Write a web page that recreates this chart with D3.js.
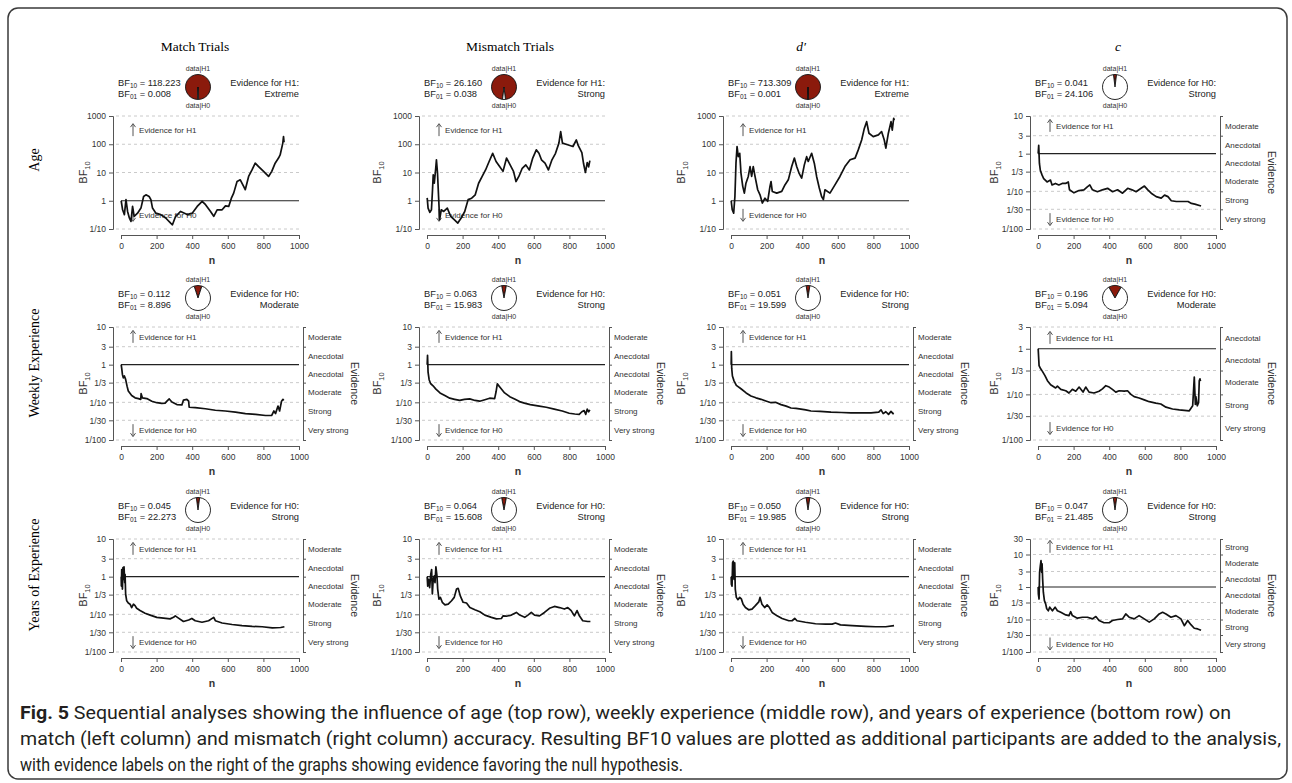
<!DOCTYPE html>
<html>
<head>
<meta charset="utf-8">
<script src="https://cdn.jsdelivr.net/npm/d3@7"></script>
<style>
  body { margin: 0; background: #fff; }
  svg { display: block; }
</style>
</head>
<body>
<svg id="chart" width="1292" height="783"></svg>
<script>
// ---- data ----
const columns = ["Match Trials", "Mismatch Trials", "d\u2032", "c"];
const rows = ["Age", "Weekly Experience", "Years of Experience"];

const bf10 = [
  [118.223, 26.160, 713.309, 0.041],
  [0.112, 0.063, 0.051, 0.196],
  [0.045, 0.064, 0.050, 0.047]
];
const bf01 = [
  [0.008, 0.038, 0.001, 24.106],
  [8.896, 15.983, 19.599, 5.094],
  [22.273, 15.608, 19.985, 21.485]
];
const evidenceFor = [
  ["H1", "H1", "H1", "H0"],
  ["H0", "H0", "H0", "H0"],
  ["H0", "H0", "H0", "H0"]
];
const evidenceLevel = [
  ["Extreme", "Strong", "Extreme", "Strong"],
  ["Moderate", "Strong", "Strong", "Moderate"],
  ["Strong", "Strong", "Strong", "Strong"]
];

// y tick sets (BF10 values) and their labels
const ticksWide = [1000, 100, 10, 1, 0.1];
const ticksWideLabels = ["1000", "100", "10", "1", "1/10"];
const ticksStd = [10, 3, 1, 1/3, 1/10, 1/30, 1/100];
const ticksStdLabels = ["10", "3", "1", "1/3", "1/10", "1/30", "1/100"];
const ticksLow = [3, 1, 1/3, 1/10, 1/30, 1/100];
const ticksLowLabels = ["3", "1", "1/3", "1/10", "1/30", "1/100"];
const ticksHigh = [30, 10, 3, 1, 1/3, 1/10, 1/30, 1/100];
const ticksHighLabels = ["30", "10", "3", "1", "1/3", "1/10", "1/30", "1/100"];
const xTicks = [0, 200, 400, 600, 800, 1000];

const evidenceCuts = [1, 3, 10, 30, 100];
const evidenceNames = ["Anecdotal", "Moderate", "Strong", "Very strong", "Extreme"];

// sequential BF10 paths: [n, log10(BF10)]
const ageMatch = [[1,0],[9,-0.32],[19,-0.49],[28,0.04],[37,-0.38],[47,-0.61],[56,-0.73],[65,-0.2],[74,-0.55],[93,-0.44],[112,-0.26],[127,0.15],[140,0.21],[158,0.15],[168,0.04],[177,-0.26],[196,-0.44],[223,-0.49],[251,-0.61],[279,-0.79],[289,-0.85],[307,-0.55],[335,-0.38],[372,-0.49],[400,-0.44],[428,-0.2],[456,-0.02],[475,-0.14],[503,-0.38],[521,-0.55],[540,-0.32],[568,-0.32],[587,-0.18],[605,-0.2],[620,0.09],[633,0.27],[652,0.68],[670,0.74],[689,0.51],[698,0.39],[717,0.86],[736,1.09],[754,1.33],[773,1.21],[801,1.04],[829,0.86],[847,1.04],[866,1.33],[885,1.51],[894,1.62],[909,2.04],[913,2.27],[916,2.07]];
const ageMismatch = [[1,0.1],[6,-0.26],[16,-0.41],[25,-0.32],[31,0.39],[35,0.92],[41,0.62],[49,1.15],[53,1.45],[59,0.98],[65,0.15],[71,-0.67],[80,-0.32],[94,-0.38],[114,-0.26],[133,-0.55],[153,-0.67],[173,-0.79],[192,-0.61],[212,-0.38],[231,0.04],[251,0.09],[271,0.21],[290,0.62],[310,0.86],[329,1.09],[349,1.39],[369,1.68],[388,1.39],[408,1.21],[427,1.04],[447,1.51],[467,1.27],[486,1.04],[500,0.68],[516,0.86],[535,1.15],[555,1.27],[575,1.09],[594,1.51],[614,1.8],[629,1.68],[643,1.45],[663,1.33],[682,1.09],[702,1.45],[722,1.68],[741,2.04],[751,2.45],[761,2.04],[790,1.98],[820,1.92],[839,2.15],[850,1.95],[870,1.7],[880,1.3],[890,1.0],[900,1.35],[908,1.2],[915,1.42]];
const ageDprime = [[1,0],[7,-0.32],[15,-0.44],[22,0.15],[28,1.33],[34,1.92],[41,1.56],[49,1.68],[56,0.98],[66,0.51],[75,0.27],[84,0.62],[97,0.86],[107,1.21],[116,0.86],[125,1.21],[135,0.86],[150,0.39],[163,0.21],[176,-0.08],[191,0.09],[206,-0.02],[219,0.51],[225,0.68],[232,0.33],[257,0.27],[285,0.33],[303,0.56],[322,0.74],[341,1.21],[356,1.51],[369,1.21],[382,0.98],[397,0.8],[412,1.27],[425,1.56],[434,1.39],[453,1.68],[468,1.33],[481,0.86],[496,0.45],[509,0.15],[519,0.04],[528,0.39],[556,0.27],[584,0.56],[612,0.86],[640,1.21],[669,1.45],[697,1.51],[715,1.8],[734,2.15],[749,2.56],[762,2.8],[775,2.39],[799,2.27],[828,2.33],[846,2.45],[861,2.15],[870,1.86],[884,2.39],[899,2.8],[906,2.5],[914,2.92],[917,2.85]];
const ageC = [[1,0],[4,0.22],[8,-0.26],[13,-0.44],[23,-0.57],[32,-0.66],[51,-0.75],[70,-0.7],[79,-0.83],[98,-0.79],[117,-0.83],[136,-0.79],[155,-0.79],[170,-0.75],[177,-0.96],[202,-1.04],[230,-0.98],[258,-0.96],[277,-0.88],[291,-0.83],[306,-0.96],[334,-1.01],[362,-0.96],[391,-0.92],[419,-1.01],[447,-0.96],[475,-1.05],[504,-0.92],[528,-0.96],[551,-1.01],[579,-0.92],[598,-0.86],[617,-0.96],[636,-1.05],[664,-1.14],[692,-1.18],[711,-1.1],[730,-1.14],[749,-1.25],[777,-1.27],[815,-1.27],[843,-1.27],[862,-1.32],[881,-1.34],[916,-1.39]];

const weeklyMatch = [[1,0],[4,-0.1],[8,-0.26],[13,-0.35],[19,-0.3],[26,-0.39],[34,-0.57],[41,-0.7],[60,-0.82],[79,-0.88],[98,-0.9],[111,-0.92],[113,-0.77],[120,-0.88],[145,-0.9],[173,-0.97],[201,-1.01],[229,-1.03],[248,-1.02],[258,-0.97],[271,-0.91],[286,-0.99],[314,-1.06],[342,-1.07],[351,-0.94],[370,-0.92],[380,-0.97],[383,-1.13],[417,-1.14],[474,-1.17],[530,-1.21],[586,-1.23],[643,-1.26],[699,-1.3],[756,-1.32],[812,-1.35],[846,-1.35],[859,-1.23],[868,-1.3],[882,-1.1],[891,-1.23],[902,-0.97],[910,-0.92],[914,-0.95]];
const weeklyMismatch = [[1,0],[3,0.25],[6,-0.2],[12,-0.4],[20,-0.5],[34,-0.56],[50,-0.65],[73,-0.75],[100,-0.82],[128,-0.89],[155,-0.92],[184,-0.95],[210,-0.92],[240,-0.91],[270,-0.95],[296,-0.97],[325,-0.93],[352,-0.89],[380,-0.9],[388,-0.72],[395,-0.51],[410,-0.6],[436,-0.75],[465,-0.85],[492,-0.91],[520,-0.98],[547,-1.02],[580,-1.06],[631,-1.1],[670,-1.13],[715,-1.18],[760,-1.23],[799,-1.29],[830,-1.31],[855,-1.32],[870,-1.25],[883,-1.22],[892,-1.32],[900,-1.18],[908,-1.25],[915,-1.2]];
const weeklyDprime = [[1,0],[2,0.35],[4,-0.1],[8,-0.3],[17,-0.43],[30,-0.55],[56,-0.64],[85,-0.75],[112,-0.83],[140,-0.88],[169,-0.92],[200,-0.97],[225,-1.01],[250,-1.0],[281,-1.06],[310,-1.1],[337,-1.15],[365,-1.16],[393,-1.18],[420,-1.2],[449,-1.23],[500,-1.24],[562,-1.26],[620,-1.27],[674,-1.28],[730,-1.28],[787,-1.28],[830,-1.26],[843,-1.2],[855,-1.3],[870,-1.25],[885,-1.32],[899,-1.24],[910,-1.3],[915,-1.29]];
const weeklyC = [[1,0],[6,-0.37],[15,-0.44],[24,-0.49],[39,-0.59],[53,-0.7],[71,-0.79],[99,-0.86],[109,-0.82],[128,-0.89],[156,-0.92],[174,-0.97],[193,-0.89],[212,-0.93],[231,-0.84],[253,-0.95],[268,-0.84],[287,-0.95],[315,-0.97],[343,-0.93],[362,-0.88],[381,-0.81],[400,-0.84],[418,-0.89],[437,-0.95],[456,-0.92],[484,-0.93],[503,-0.92],[522,-1.0],[540,-1.05],[568,-1.08],[597,-1.12],[625,-1.16],[662,-1.19],[690,-1.21],[719,-1.28],[756,-1.32],[794,-1.34],[850,-1.36],[869,-1.25],[878,-0.62],[884,-1.22],[887,-1.05],[895,-1.25],[902,-1.18],[906,-0.7],[910,-0.66],[913,-0.71]];

const yearsMatch = [[1,0],[2,-0.25],[4,0.19],[8,-0.33],[11,0.24],[15,-0.07],[17,0.26],[21,-0.16],[23,0.06],[26,-0.46],[32,-0.64],[41,-0.7],[51,-0.73],[60,-0.82],[70,-0.73],[79,-0.77],[88,-0.84],[107,-0.9],[135,-0.97],[164,-1.02],[201,-1.08],[239,-1.1],[276,-1.12],[295,-1.08],[305,-1.04],[323,-1.1],[351,-1.19],[380,-1.15],[398,-1.11],[417,-1.17],[455,-1.21],[492,-1.17],[521,-1.08],[530,-1.17],[568,-1.23],[624,-1.27],[680,-1.3],[737,-1.32],[793,-1.33],[850,-1.36],[897,-1.35],[918,-1.33]];
const yearsMismatch = [[1,0],[4,-0.25],[9,-0.07],[15,-0.29],[21,0.06],[26,0.19],[30,-0.46],[35,-0.07],[41,0.02],[45,-0.16],[50,0.26],[56,0.02],[60,-0.33],[67,-0.6],[75,-0.55],[86,-0.68],[101,-0.75],[119,-0.73],[138,-0.64],[153,-0.55],[166,-0.33],[175,-0.31],[187,-0.51],[203,-0.68],[222,-0.7],[241,-0.82],[269,-0.88],[297,-0.93],[325,-1.02],[362,-1.08],[390,-1.12],[418,-1.11],[427,-1.04],[446,-1.05],[474,-1.02],[502,-0.95],[521,-1.02],[549,-1.08],[567,-1.02],[586,-0.95],[604,-1.02],[632,-1.04],[660,-0.95],[688,-0.84],[716,-0.79],[744,-0.82],[772,-0.86],[791,-0.82],[810,-0.9],[828,-1.04],[843,-0.9],[856,-1.04],[875,-1.17],[903,-1.19],[918,-1.19]];
const yearsDprime = [[1,0],[2,-0.2],[6,-0.25],[9,0.37],[13,0.41],[17,-0.07],[21,0.37],[24,-0.33],[30,-0.55],[39,-0.61],[49,-0.55],[58,-0.59],[68,-0.73],[81,-0.82],[99,-0.88],[118,-0.86],[137,-0.77],[156,-0.67],[163,-0.55],[174,-0.73],[189,-0.82],[203,-0.75],[216,-0.82],[231,-0.95],[259,-1.04],[287,-1.11],[325,-1.17],[343,-1.17],[358,-1.11],[371,-1.17],[418,-1.21],[475,-1.25],[531,-1.26],[568,-1.26],[587,-1.23],[615,-1.28],[681,-1.3],[756,-1.32],[812,-1.33],[869,-1.33],[916,-1.3]];
const yearsC = [[1,0],[2,-0.21],[6,-0.37],[9,0.45],[13,0.65],[17,0.81],[21,0.45],[23,0.71],[26,0.25],[30,-0.16],[36,-0.42],[43,-0.52],[49,-0.67],[58,-0.73],[66,-0.62],[81,-0.73],[96,-0.62],[109,-0.73],[128,-0.78],[156,-0.86],[174,-0.88],[184,-0.76],[193,-0.88],[221,-0.96],[250,-0.93],[278,-0.93],[306,-0.98],[325,-0.91],[343,-1.03],[371,-1.1],[400,-1.1],[418,-1.03],[447,-1.0],[475,-0.98],[493,-0.83],[512,-0.93],[540,-0.98],[568,-0.88],[597,-0.98],[625,-1.08],[653,-0.98],[681,-0.83],[700,-0.78],[719,-0.83],[747,-0.93],[775,-0.88],[803,-0.98],[822,-1.19],[841,-1.03],[859,-1.16],[878,-1.27],[897,-1.29],[916,-1.33]];

const series = [
  [ageMatch, ageMismatch, ageDprime, ageC],
  [weeklyMatch, weeklyMismatch, weeklyDprime, weeklyC],
  [yearsMatch, yearsMismatch, yearsDprime, yearsC]
];
const panelTicks = [
  [[ticksWide, ticksWideLabels], [ticksWide, ticksWideLabels], [ticksWide, ticksWideLabels], [ticksStd, ticksStdLabels]],
  [[ticksStd, ticksStdLabels], [ticksStd, ticksStdLabels], [ticksStd, ticksStdLabels], [ticksLow, ticksLowLabels]],
  [[ticksStd, ticksStdLabels], [ticksStd, ticksStdLabels], [ticksStd, ticksStdLabels], [ticksHigh, ticksHighLabels]]
];
const showEvidenceAxis = [
  [false, false, false, true],
  [true, true, true, true],
  [true, true, true, true]
];

// ---- layout ----
const colX = [121, 427, 731, 1038];
const rowY = [116, 327, 539];
const plotW = 178, plotH = 113;
const titleX = [195, 510, 801, 1118];
const rowLabelY = [160, 363, 575];
const bfLabelOffset = [-34, -46, -46, -40];
const sans = "'Liberation Sans', Arial, sans-serif";
const serif = "'Liberation Serif', 'Times New Roman', serif";
const darkRed = "#8b1a0c";

const svg = d3.select("#chart");

svg.append("rect")
  .attr("x", 8).attr("y", 8).attr("width", 1279).attr("height", 771)
  .attr("rx", 10).attr("fill", "none").attr("stroke", "#3a3a3a").attr("stroke-width", 1.5);

// column titles
columns.forEach((t, i) => {
  svg.append("text")
    .attr("x", titleX[i]).attr("y", 51)
    .attr("text-anchor", "middle")
    .style("font-family", serif).style("font-size", "13.5px")
    .style("font-style", i >= 2 ? "italic" : "normal")
    .text(t);
});

// row labels
rows.forEach((t, i) => {
  svg.append("text")
    .attr("transform", `translate(39,${rowLabelY[i]}) rotate(-90)`)
    .attr("text-anchor", "middle")
    .style("font-family", serif).style("font-size", "14px")
    .text(t);
});

function bandName(a, b) {
  let m = Math.sqrt(a * b);
  if (m < 1) m = 1 / m;
  let k = 0;
  evidenceCuts.forEach((cut, i) => { if (m >= cut) k = i; });
  return evidenceNames[k];
}

function drawPanel(r, c) {
  const x0 = colX[c], x1 = x0 + plotW;
  const yTop = rowY[r], yBot = yTop + plotH;
  const [tv, tl] = panelTicks[r][c];
  const logs = tv.map(v => Math.log10(v));

  const x = d3.scaleLinear().domain([0, 1000]).range([x0, x1]);
  const y = d3.scaleLinear().domain([d3.min(logs), d3.max(logs)]).range([yBot, yTop]);

  const g = svg.append("g");

  // grid lines
  logs.forEach(lv => {
    if (lv === 0) return;
    g.append("line")
      .attr("x1", x0 - 5).attr("x2", x1)
      .attr("y1", y(lv)).attr("y2", y(lv))
      .attr("stroke", "#c4c4c4").attr("stroke-width", 0.9)
      .attr("stroke-dasharray", "3,3");
  });
  g.append("line")
    .attr("x1", x0).attr("x2", x1)
    .attr("y1", y(0)).attr("y2", y(0))
    .attr("stroke", "#222").attr("stroke-width", 1.2);

  // left axis
  const yAxis = d3.axisLeft(y).tickValues(logs).tickSize(4).tickPadding(3)
    .tickFormat((d, i) => tl[i]);
  const ya = g.append("g").attr("transform", `translate(${x0 - 8},0)`).call(yAxis);
  ya.select(".domain").attr("stroke", "#555");
  ya.selectAll(".tick line").attr("stroke", "#555");
  ya.selectAll("text").style("font-family", sans).style("font-size", "8.5px").attr("fill", "#333");

  // bottom axis
  const xAxis = d3.axisBottom(x).tickValues(xTicks).tickSize(4).tickPadding(4)
    .tickFormat(d3.format("d"));
  const xa = g.append("g").attr("transform", `translate(0,${yBot + 6})`).call(xAxis);
  xa.select(".domain").attr("stroke", "#555");
  xa.selectAll(".tick line").attr("stroke", "#555");
  xa.selectAll("text").style("font-family", sans).style("font-size", "8.5px").attr("fill", "#333");

  g.append("text")
    .attr("x", (x0 + x1) / 2 + 2).attr("y", yBot + 35)
    .attr("text-anchor", "middle")
    .style("font-family", sans).style("font-size", "10.5px").style("font-weight", "bold")
    .attr("fill", "#333").text("n");

  // y label BF10
  const yl = g.append("text")
    .attr("transform", `translate(${x0 + bfLabelOffset[c]},${(yTop + yBot) / 2}) rotate(-90)`)
    .attr("text-anchor", "middle")
    .style("font-family", sans).style("font-size", "11px").attr("fill", "#333");
  yl.append("tspan").text("BF");
  yl.append("tspan").attr("dy", 3).style("font-size", "7.5px").text("10");

  // right evidence axis
  if (showEvidenceAxis[r][c]) {
    const ra = g.append("g").attr("transform", `translate(${x1 + 4},0)`)
      .call(d3.axisRight(y).tickValues(logs).tickSize(3).tickFormat(""));
    ra.select(".domain").attr("stroke", "#555");
    ra.selectAll(".tick line").attr("stroke", "#555");
    for (let i = 0; i < tv.length - 1; i++) {
      g.append("text")
        .attr("x", x1 + 9).attr("y", y((logs[i] + logs[i + 1]) / 2) + 3)
        .style("font-family", sans).style("font-size", "8px").attr("fill", "#333")
        .text(bandName(tv[i], tv[i + 1]));
    }
    g.append("text")
      .attr("transform", `translate(${x1 + 52},${(yTop + yBot) / 2}) rotate(90)`)
      .attr("text-anchor", "middle")
      .style("font-family", sans).style("font-size", "10.5px").attr("fill", "#333")
      .text("Evidence");
  }

  // evidence direction hints
  const upY = y((logs[0] + logs[1]) / 2);
  const dnY = y((logs[logs.length - 1] + logs[logs.length - 2]) / 2);
  [[upY, -1, "Evidence for H1"], [dnY, 1, "Evidence for H0"]].forEach(([yy, dir, txt]) => {
    const ax = x0 + 12;
    g.append("line").attr("x1", ax).attr("x2", ax)
      .attr("y1", yy - 6 * dir).attr("y2", yy + 6 * dir)
      .attr("stroke", "#555").attr("stroke-width", 1);
    g.append("path")
      .attr("d", `M${ax - 2.5},${yy + 3 * dir} L${ax},${yy + 6.5 * dir} L${ax + 2.5},${yy + 3 * dir}`)
      .attr("fill", "none").attr("stroke", "#555").attr("stroke-width", 1);
    g.append("text").attr("x", x0 + 18).attr("y", yy + 3)
      .style("font-family", sans).style("font-size", "8.1px").attr("fill", "#333")
      .text(txt);
  });

  // data line
  const line = d3.line().x(d => x(d[0])).y(d => y(d[1]));
  g.append("path").datum(series[r][c])
    .attr("d", line)
    .attr("fill", "none").attr("stroke", "#111")
    .attr("stroke-width", 1.7).attr("stroke-linejoin", "round");

  // header: BF values
  const h1 = g.append("text").attr("x", x0 - 3).attr("y", yTop - 30)
    .style("font-family", sans).style("font-size", "9.3px").attr("fill", "#222");
  h1.append("tspan").text("BF");
  h1.append("tspan").attr("dy", 2).style("font-size", "6.5px").text("10");
  h1.append("tspan").attr("dy", -2).text(" = " + bf10[r][c].toFixed(3));
  const h2 = g.append("text").attr("x", x0 - 3).attr("y", yTop - 19)
    .style("font-family", sans).style("font-size", "9.3px").attr("fill", "#222");
  h2.append("tspan").text("BF");
  h2.append("tspan").attr("dy", 2).style("font-size", "6.5px").text("01");
  h2.append("tspan").attr("dy", -2).text(" = " + bf01[r][c].toFixed(3));

  g.append("text").attr("x", x1).attr("y", yTop - 30).attr("text-anchor", "end")
    .style("font-family", sans).style("font-size", "9.3px").attr("fill", "#222")
    .text(`Evidence for ${evidenceFor[r][c]}:`);
  g.append("text").attr("x", x1).attr("y", yTop - 19).attr("text-anchor", "end")
    .style("font-family", sans).style("font-size", "9.3px").attr("fill", "#222")
    .text(evidenceLevel[r][c]);

  // pie: posterior probability data|H1 vs data|H0
  const cx = x0 + 77, cy = yTop - 29, rad = 12.5;
  const p = bf10[r][c] / (1 + bf10[r][c]);
  const pie = d3.pie().sort(null).startAngle(-p * Math.PI).endAngle(2 * Math.PI - p * Math.PI);
  const arc = d3.arc().innerRadius(0).outerRadius(rad);
  g.append("g").attr("transform", `translate(${cx},${cy})`)
    .selectAll("path").data(pie([p, 1 - p])).join("path")
    .attr("d", arc)
    .attr("fill", (d, i) => i === 0 ? darkRed : "#fff")
    .attr("stroke", "#111").attr("stroke-width", 0.9);
  g.append("text").attr("x", cx).attr("y", cy - 16).attr("text-anchor", "middle")
    .style("font-family", sans).style("font-size", "7px").attr("fill", "#333").text("data|H1");
  g.append("text").attr("x", cx).attr("y", cy + 21).attr("text-anchor", "middle")
    .style("font-family", sans).style("font-size", "7px").attr("fill", "#333").text("data|H0");
}

rows.forEach((_, r) => columns.forEach((_, c) => drawPanel(r, c)));

// caption
const captionLines = [
  ["Fig. 5", " Sequential analyses showing the influence of age (top row), weekly experience (middle row), and years of experience (bottom row) on"],
  ["", "match (left column) and mismatch (right column) accuracy. Resulting BF10 values are plotted as additional participants are added to the analysis,"],
  ["", "with evidence labels on the right of the graphs showing evidence favoring the null hypothesis."]
];
const captionWidth = [1211, 1261, 663];
captionLines.forEach((ln, i) => {
  const t = svg.append("text")
    .attr("x", 20).attr("y", 719 + i * 26)
    .attr("textLength", captionWidth[i]).attr("lengthAdjust", "spacingAndGlyphs")
    .style("font-family", "'Liberation Sans Narrow', 'Roboto', sans-serif")
    .style("font-size", "18px").attr("fill", "#231f20");
  if (ln[0]) t.append("tspan").style("font-weight", "bold").text(ln[0]);
  t.append("tspan").text(ln[1]);
});
</script>
</body>
</html>
